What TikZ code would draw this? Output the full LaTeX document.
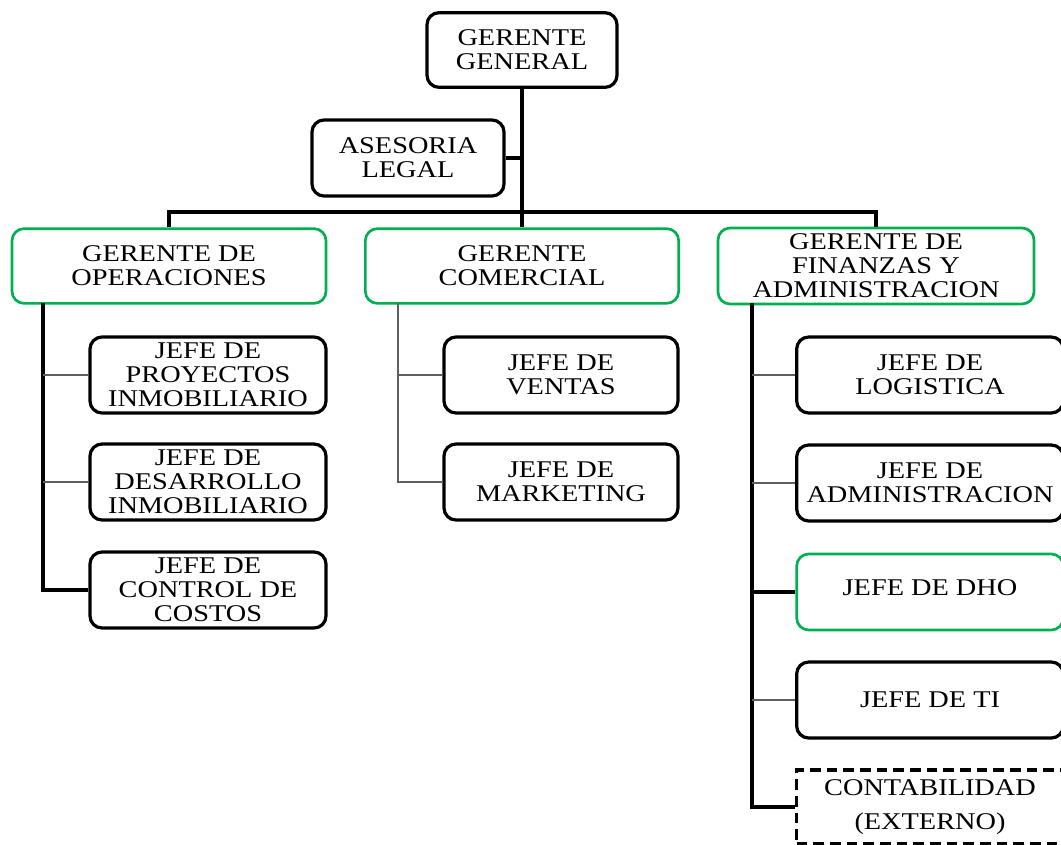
\documentclass[tikz,border=0pt]{standalone}
\usepackage{fontspec}
\setmainfont{Liberation Serif}[FakeStretch=1.18]
\usepackage{tikz}
\usetikzlibrary{calc}
\usepackage{color}
\definecolor{verde}{RGB}{0,176,80}
\definecolor{gristrazo}{RGB}{95,95,95}
\tikzset{
	caja/.style={draw=black, line width=2.4pt, rounded corners=9pt, align=center,
		inner sep=0pt, font=\fontsize{18}{18}\selectfont},
	cajaverde/.style={caja, draw=verde, line width=2pt},
	cajaext/.style={draw=black, line width=2.4pt, dash pattern=on 8pt off 4.5pt, align=center,
		inner sep=0pt, font=\fontsize{18}{25.5}\selectfont},
	lineagruesa/.style={draw=black, line width=2.6pt},
	lineafina/.style={draw=gristrazo, line width=1.5pt}
}
\newcommand{\jefe}[4] % name, x, y, text
{
	\node[caja, minimum width=177pt, minimum height=57pt] (#1) at (#2,#3) {#4};
}
\begin{document}
\begin{tikzpicture}[x=0.75pt, y=-0.75pt]
	% frame: 1061 x 844 px, y grows downward
	\useasboundingbox (0,0) rectangle (1061,844);
	% gerencia general
	\node[caja, minimum width=142.5pt, minimum height=56pt] (gg) at (522,50) {GERENTE\\GENERAL};
	\node[caja, minimum width=144pt, minimum height=57pt] (legal) at (408,158) {ASESORIA\\LEGAL};
	% gerencias
	\node[cajaverde, minimum width=235.5pt, minimum height=56pt] (ops) at (169,266) {GERENTE DE\\OPERACIONES};
	\node[cajaverde, minimum width=235pt, minimum height=56pt] (com) at (522,266) {GERENTE\\COMERCIAL};
	\node[cajaverde, minimum width=237pt, minimum height=57pt] (fin) at (876,266) {GERENTE DE\\FINANZAS Y\\ADMINISTRACION};
	% jefaturas de operaciones
	\jefe{proy}{208}{375}{JEFE DE\\PROYECTOS\\INMOBILIARIO}
	\jefe{desa}{208}{482}{JEFE DE\\DESARROLLO\\INMOBILIARIO}
	\jefe{cost}{208}{590}{JEFE DE\\CONTROL DE\\COSTOS}
	% jefaturas comerciales
	\node[caja, minimum width=175.5pt, minimum height=57pt] (vent) at (561,375) {JEFE DE\\VENTAS};
	\node[caja, minimum width=175.5pt, minimum height=57pt] (mkt) at (561,482) {JEFE DE\\MARKETING};
	% jefaturas de finanzas
	\node[caja, minimum width=200pt, minimum height=57pt] (log) at (930,375) {JEFE DE\\LOGISTICA};
	\node[caja, minimum width=200pt, minimum height=57pt] (adm) at (930,483) {JEFE DE\\ADMINISTRACION};
	\node[cajaverde, minimum width=200pt, minimum height=57pt] (dho) at (930,592) {\raisebox{7pt}{JEFE DE DHO}};
	\node[caja, minimum width=200pt, minimum height=57pt] (ti) at (930,700) {JEFE DE TI};
	\node[cajaext, minimum width=200pt, minimum height=55.5pt] (cont) at (930,807) {CONTABILIDAD\\(EXTERNO)};
	% tronco principal
	\coordinate (barra) at (522,212);
	\draw[lineagruesa] (gg.south) -- (com.north);
	\draw[lineagruesa] (legal.east) -- (legal.east -| gg.south);
	\draw[lineagruesa] (ops.north) |- (barra) -| (fin.north);
	% ramas
	\coordinate (ramaops) at (43,303);
	\coordinate (ramacom) at (398,303);
	\coordinate (ramafin) at (752,303);
	\draw[lineagruesa] (ramaops) |- (cost.west);
	\draw[lineafina] (ramaops |- proy.west) -- (proy.west);
	\draw[lineafina] (ramaops |- desa.west) -- (desa.west);
	\draw[lineafina] (ramacom) |- (mkt.west);
	\draw[lineafina] (ramacom |- vent.west) -- (vent.west);
	\draw[lineagruesa] (ramafin) |- (cont.west);
	\draw[lineafina] (ramafin |- log.west) -- (log.west);
	\draw[lineafina] (ramafin |- adm.west) -- (adm.west);
	\draw[lineagruesa] (ramafin |- dho.west) -- (dho.west);
	\draw[lineafina] (ramafin |- ti.west) -- (ti.west);
\end{tikzpicture}
\end{document}
